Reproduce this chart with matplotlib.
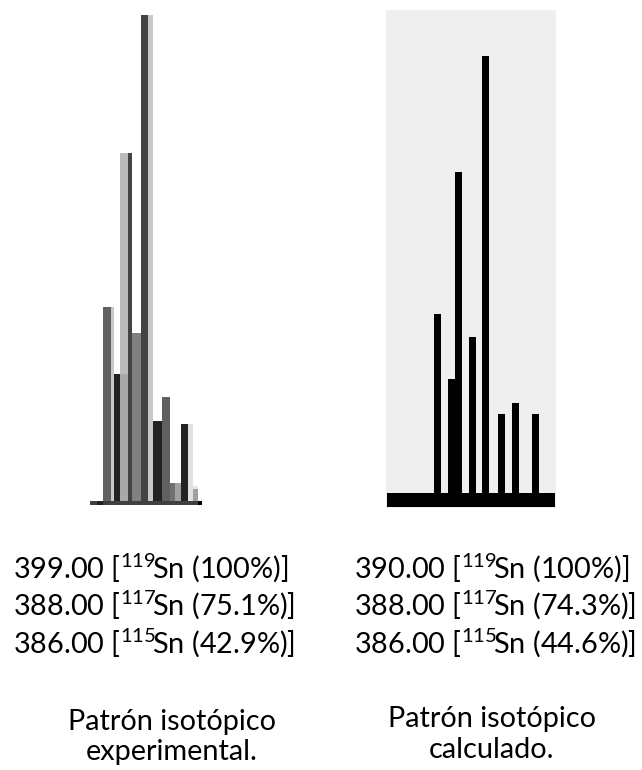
import matplotlib
matplotlib.use("Agg")
import matplotlib.pyplot as plt

plt.rcParams['font.family'] = ['Lato', 'DejaVu Sans']
plt.rcParams['mathtext.fontset'] = 'custom'
plt.rcParams['mathtext.rm'] = 'Lato'
plt.rcParams['mathtext.it'] = 'Lato:italic'
plt.rcParams['mathtext.bf'] = 'Lato:bold'

W, H = 642, 770

# ---------------- data ----------------
# Experimental pattern: bar channel positions (left edge, arbitrary units) and relative intensities (%)
exp_pos = [103.3, 111.0, 113.7, 120.0, 120.0, 127.7, 131.7, 140.7, 148.3,
           153.3, 162.3, 170.0, 175.0, 181.0, 187.7, 192.7, 192.7]
exp_int = [40.0, 40.0, 26.1, 71.6, 26.1, 71.6, 34.6, 100.0, 100.0,
           16.5, 21.5, 3.8, 3.8, 15.8, 15.8, 3.1, 2.5]

# Calculated pattern: m/z and relative intensities (%)
calc_mz = [386.46, 387.49, 388.0, 388.99, 390.0, 391.15, 392.18, 393.67]
calc_int = [40.9, 26.1, 73.4, 35.8, 100.0, 18.1, 20.6, 18.1]

exp_labels = [("399.00", "119", "100%"), ("388.00", "117", "75.1%"), ("386.00", "115", "42.9%")]
calc_labels = [("390.00", "119", "100%"), ("388.00", "117", "74.3%"), ("386.00", "115", "44.6%")]
exp_title = ["Patrón isotópico", "experimental."]
calc_title = ["Patrón isotópico", "calculado."]

# ---------------- styles ----------------
exp_w = [7.7, 2.7, 6.3, 7.7, 7.7, 4.0, 9.0, 7.6, 5.0, 9.0, 7.7, 5.0, 6.0, 6.7, 5.0, 5.0, 5.0]
exp_col = ['#606060', '#c8c8c8', '#222222', '#bbbbbb', '#a8a8a8', '#444444', '#808080',
           '#444444', '#c8c8c8', '#222222', '#606060', '#707070', '#a0a0a0', '#222222',
           '#e0e0e0', '#e6e6e6', '#a0a0a0']

fig = plt.figure(figsize=(W / 100, H / 100), dpi=100)
fig.patch.set_facecolor('white')


def px_axes(x0, x1, y0, y1):
    return fig.add_axes([x0 / W, 1 - y1 / H, (x1 - x0) / W, (y1 - y0) / H])


# Left panel (experimental)
axL = px_axes(88, 204, 10, 510)
pxu = 4.86  # pixels per % in this panel
axL.set_xlim(88, 204)
axL.set_ylim(-(510 - 501) / pxu, (501 - 10) / pxu)
axL.bar(exp_pos, exp_int, width=exp_w, align='edge', color=exp_col, linewidth=0)
axL.hlines(-2 / pxu, 90, 201.7, color='#404040', lw=4 * 0.72)
axL.hlines(-2 / pxu, 96.7, 103.3, color='#202020', lw=4 * 0.72)
axL.hlines(-2 / pxu, 198, 201.7, color='#000000', lw=4 * 0.72)
axL.axis('off')

# Right panel (calculated)
axR = px_axes(386, 556, 10, 508)
pxr = 4.373
s = 13.6
axR.set_xlim(390 - (485.8 - 386) / s, 390 + (556 - 485.8) / s)
axR.set_ylim(-(508 - 493.3) / pxr, (493.3 - 10) / pxr)
axR.set_facecolor('#efefef')
axR.bar(calc_mz, calc_int, width=0.51, color='black', linewidth=0)
axR.axhspan(-14 / pxr, 0, xmin=1.3 / 170, xmax=169 / 170, color='black', lw=0)
axR.set_xticks([])
axR.set_yticks([])
for sp in axR.spines.values():
    sp.set_visible(False)

FS = 20.8


def ftxt(x, y, s, ha='left'):
    fig.text(x / W, 1 - y / H, s, ha=ha, va='baseline', fontsize=FS, color='black')


def label(m, iso, pct):
    return m + r" [$^{\mathregular{" + iso + r"}}\!$Sn (" + pct + ")]"


baselines = [577.3, 615.0, 652.7]
for (m, iso, pct), yb in zip(exp_labels, baselines):
    ftxt(12.7, yb, label(m, iso, pct))
for (m, iso, pct), yb in zip(calc_labels, baselines):
    ftxt(354.3, yb, label(m, iso, pct))

ftxt(171.7, 730, exp_title[0], ha='center')
ftxt(171.7, 760, exp_title[1], ha='center')
ftxt(491.5, 727.5, calc_title[0], ha='center')
ftxt(491.5, 758.3, calc_title[1], ha='center')

fig.savefig('out.png', dpi=100, facecolor='white')
